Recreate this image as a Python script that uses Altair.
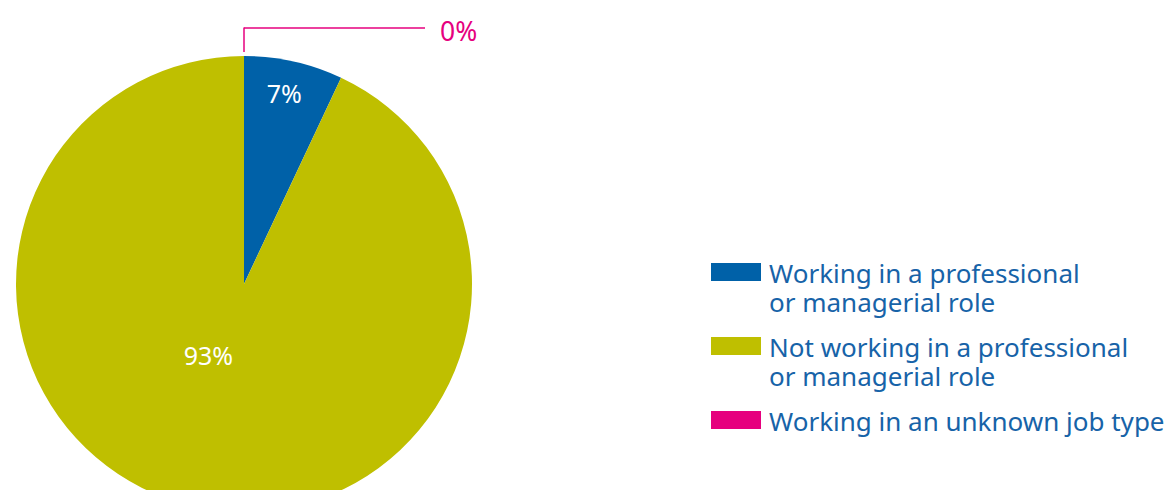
import altair as alt
import pandas as pd

categories = [
    "Working in a professional|or managerial role",
    "Not working in a professional|or managerial role",
    "Working in an unknown job type",
]
values = [7, 93, 0]
labels = ["7%", "93%", "0%"]
colors = ["#0061A8", "#BFBF00", "#E6007E"]
order = [1, 2, 3]

df = pd.DataFrame({"cat": categories, "val": values, "lab": labels, "ord": order})

CX, CY, R = 236, 276, 228
FONT = "Noto Sans"
TEXT_BLUE = "#1763A8"

color = alt.Color(
    "cat:N",
    scale=alt.Scale(domain=categories, range=colors),
    sort=categories,
    legend=alt.Legend(
        title=None,
        orient="none",
        legendX=703,
        legendY=242,
        symbolType="M-1,-0.48H1V0.24H-1Z",
        symbolSize=2500,
        symbolStrokeWidth=0,
        symbolOpacity=1,
        labelFont=FONT,
        labelFontSize=26,
        labelColor=TEXT_BLUE,
        labelLimit=0,
        labelOffset=8,
        labelExpr="split(datum.label, '|')",
        rowPadding=7,
    ),
)

base = alt.Chart(df)

pie = base.mark_arc(outerRadius=R, stroke=None).encode(
    theta=alt.Theta("val:Q", stack=True),
    color=color,
    order=alt.Order("ord:Q"),
    x=alt.value(CX),
    y=alt.value(CY),
)

txt_blue = base.mark_text(font=FONT, fontSize=25, color="white", radius=194, dx=-2).encode(
    theta=alt.Theta("val:Q", stack=True),
    text="lab:N",
    order=alt.Order("ord:Q"),
    x=alt.value(CX),
    y=alt.value(CY),
    opacity=alt.condition("datum.ord == 1", alt.value(1), alt.value(0)),
)

txt_olive = base.mark_text(font=FONT, fontSize=25, color="white", radius=81, dx=-18, dy=-6).encode(
    theta=alt.Theta("val:Q", stack=True),
    text="lab:N",
    order=alt.Order("ord:Q"),
    x=alt.value(CX),
    y=alt.value(CY),
    opacity=alt.condition("datum.ord == 2", alt.value(1), alt.value(0)),
)

txt_pink = base.mark_text(font=FONT, fontSize=26.5, color="#E6007E", radius=251, dx=196, align="left").encode(
    theta=alt.Theta("val:Q", stack=True),
    text="lab:N",
    order=alt.Order("ord:Q"),
    x=alt.value(CX),
    y=alt.value(CY),
    opacity=alt.condition("datum.ord == 3", alt.value(1), alt.value(0)),
)

one = alt.Data(values=[{"a": 1}])
lead_v = alt.Chart(one).mark_rule(color="#E6007E", strokeWidth=1.5).encode(
    x=alt.value(CX), y=alt.value(19.5), y2=alt.value(44)
)
lead_h = alt.Chart(one).mark_rule(color="#E6007E", strokeWidth=1.5).encode(
    x=alt.value(CX), x2=alt.value(417), y=alt.value(20)
)

chart = alt.layer(pie, txt_blue, txt_olive, txt_pink, lead_v, lead_h).properties(
    width=1157, height=500, autosize=alt.AutoSizeParams(type="none"), padding=0
).configure(
    style={"guide-label": {"lineHeight": 29}},
    view={"stroke": None},
    background="white",
)

chart.save("out.html", embed_options={"renderer": "svg", "actions": False})
